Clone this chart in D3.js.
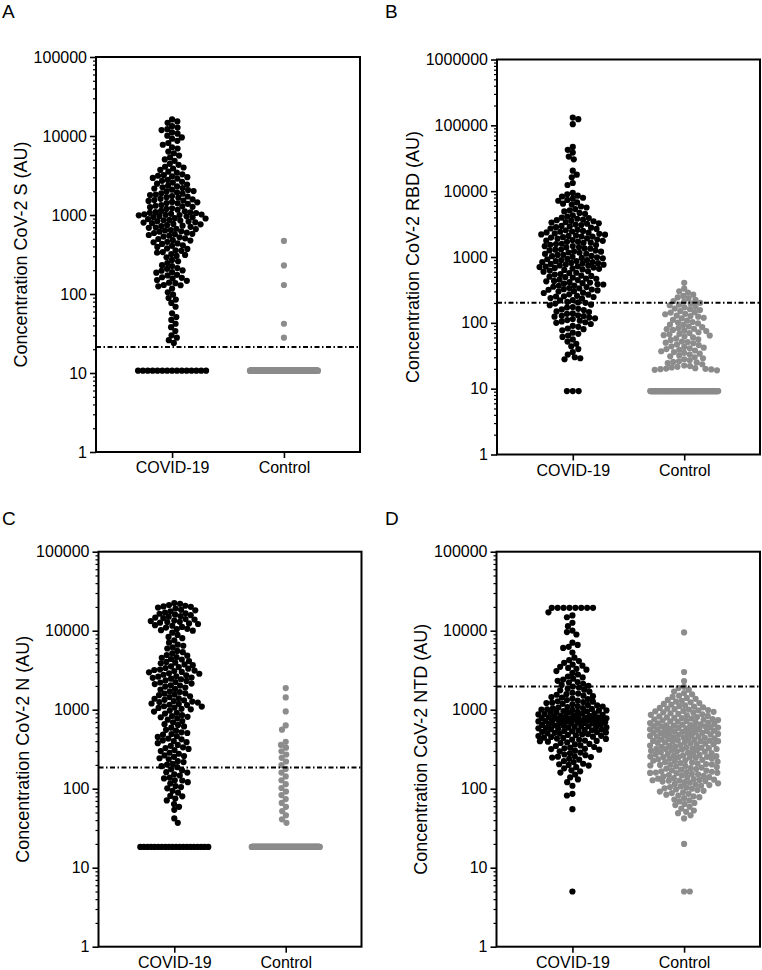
<!DOCTYPE html>
<html><head><meta charset="utf-8">
<script src="https://cdn.jsdelivr.net/npm/d3@7"></script>
<style>
body{margin:0;background:#fff;}
svg{display:block;font-family:"Liberation Sans",Arial,Helvetica,sans-serif;}
</style></head><body>
<svg id="chart" width="762" height="970"></svg>
<script>
// ---------------- DATA ----------------
const categories = ["COVID-19", "Control"];
const panelLetters = ["A", "B", "C", "D"];
const yTitles = ["Concentration CoV-2 S (AU)", "Concentration CoV-2 RBD (AU)",
                 "Concentration CoV-2 N (AU)", "Concentration CoV-2 NTD (AU)"];
const yMax = [1e5, 1e6, 1e5, 1e5];
const cutoffs = [21.3, 202, 186, 1970];

// Panel A: S
const sFloor = 10.7, sCovidFloorN = 15, sControlFloorN = 230;
const sCovid = [16200,15300,14700,13300,12800,12200,11900,11100,10700,10100,
9600,9250,8700,8150,7750,7200,6950,6350,6050,5650,5350,5050,
4850,4450,4320,4080,3990,3880,3720,3540,3430,3270,3190,
3140,3090,3010,2950,2890,2780,2710,2630,2570,
2490,2430,2350,2310,2240,2190,2160,2090,2070,2010,
1990,1940,1880,1860,1810,1790,1740,1715,1680,1655,1600,
1575,1545,1525,1505,1465,1445,1415,1405,1385,1335,1310,1290,1270,
1255,1215,1195,1165,1125,1115,1085,1080,1065,1060,1035,1020,1015,1005,1000,
992,972,963,941,934,912,903,887,866,858,851,835,826,808,801,
788,770,763,745,733,725,708,695,688,670,663,645,638,
621,615,598,592,578,572,558,547,533,522,506,
497,480,474,458,452,437,430,413,407,
394,378,372,357,352,339,333,321,
312,303,292,270,259,247,232,226,213,208,199,
197,190,186,175,172,163,160,158,150,147,139,137,130,129,125,
117,105,98,89,85,77,69,57,51,47,42,38,34,30,28,26,24];
const sControl = [470,230,130,42,28];

// Panel B: RBD
const rbdFloor = 9.2, rbdCovidFloorN = 3, rbdControlFloorN = 140;
const rbdCovid = [131000,124000,104000,47000,42500,38500,33500,30500,20500,17800,16200,13300,12400,
9400,8950,8550,8300,7950,7700,7350,7150,6750,6450,6250,5850,5650,5350,5100,
4920,4680,4520,4280,4120,3960,3900,3810,3690,3630,3540,3490,3390,3340,3250,3200,
3110,3060,2970,2930,2840,2790,2710,2670,2590,2550,
2490,2440,2420,2360,2340,2280,2250,2200,2180,2120,2090,2050,2040,2000,
1970,1920,1900,1840,1810,1770,1760,1710,1700,1650,1640,1590,
1570,1530,1520,1470,1460,1410,1400,1350,1340,1300,1290,1260,
1250,1215,1205,1170,1160,1120,1115,1080,1075,1040,1030,1005,
990,968,958,935,925,900,895,870,865,840,835,812,806,797,
786,770,765,745,740,722,716,702,692,683,668,662,648,637,
623,607,598,576,570,548,541,522,515,503,
494,487,471,467,452,446,433,427,414,409,401,
396,386,382,369,366,353,349,337,334,324,321,318,
311,303,299,287,284,271,268,257,253,251,
247,238,234,222,219,208,204,201,196,189,185,174,171,163,160,
156,149,146,139,137,130,128,127,124,120,117,114,110,108,105,102,100,
96,90,87,82,80,77,71,68,64,61,56,52,48,44,40,36,33,30,29,28];
const rbdControl = [405,332,301,287,268,256,243,236,224,214,209,201,
197,189,185,177,172,165,161,156,151,145,143,137,135,129,127,
124,119,117,111,108,103,101,98,94,93,88,86,83,81,80,
78,76,75,72,70,68,67,65,64,62,60,58,56,55,52,51,50,
49,47,46,44,43,42,41,40,39,38,37,36,35,34,33,32,
31,30,29,28,27,26,25.5,25,24.5,23.5,22.5,22,21.5,21,20.5,20.2,20,
19.8,19.6,19.3,19];

// Panel C: N
const nFloor = 18.3, nCovidFloorN = 20, nControlFloorN = 205;
const nCovid = [22400,21900,21100,20700,20300,20050,
19600,19100,18400,18100,17600,17000,16600,16400,15950,
15700,15250,15050,14650,14450,14050,13850,13450,13250,12950,12850,12650,
12350,12150,11750,11550,11150,10950,10550,10450,10150,10020,
9450,8850,8350,8050,7550,7050,6650,6450,6150,5950,5550,5350,5150,
4920,4830,4620,4530,4380,4320,4130,4020,
3940,3860,3740,3660,3540,3460,3370,3310,3220,3180,
3130,3090,3010,2970,2890,2850,2770,2730,2650,2620,2550,2530,
2470,2430,2350,2310,2240,2210,2140,2110,2040,2020,
1960,1910,1830,1790,1710,1670,1610,1595,
1555,1525,1475,1445,1395,1375,1335,1315,1285,1268,
1248,1232,1198,1184,1155,1143,1105,1094,1065,1053,1025,1012,
975,948,915,893,855,832,812,802,776,748,718,693,655,642,
615,593,556,542,517,507,492,483,461,452,431,422,408,401,
388,377,358,349,334,327,319,308,299,285,277,264,259,253,
243,236,223,217,206,202,193,187,176,171,162,160,
152,147,138,135,128,127,121,116,108,105,101,
94,89,81,80,75,71,64,59,54,42,37];
const nControl = [1880,1430,950,632,558,392,358,331,298,271,246,221,199,178,160,
143,128,114,102,92,83,74,66,59,52,46,41,37];

// Panel D: NTD
const ntdCap = 19500, ntdCovidCapN = 8;
const ntdCovid = [17100,15600,14800,12600,11400,10050,9600,8950,7050,6600,6250,6050,5300,
4550,4250,4120,3920,3730,3610,3490,3380,3290,3210,3080,2920,2790,2630,2560,
2470,2410,2320,2240,2210,2130,2060,2010,1960,1910,1840,1790,1760,1690,1640,1600,
1570,1545,1505,1485,1445,1425,1385,1365,1325,1305,1278,1262,
1252,1228,1213,1187,1172,1148,1134,1108,1097,1079,1067,1048,1037,1022,1011,1002,
993,979,972,958,951,938,931,918,912,898,892,879,872,858,851,838,833,819,812,804,800,797,
791,782,779,769,766,758,753,747,741,735,728,723,717,711,705,699,693,687,681,675,669,663,656,649,641,635,
628,621,617,609,605,597,593,585,581,573,569,561,557,549,545,537,533,525,521,513,509,503,
498,491,487,479,475,467,463,455,451,443,439,431,427,419,415,407,403,399,
394,385,379,369,363,353,347,337,331,324,320,317,
312,303,297,287,281,271,266,257,254,252,248,239,233,223,217,207,204,200,
196,187,181,171,166,160,151,139,131,121,109,86,82,55,5];
const ntdControl = [9500,3000,2300,1950,1880,1790,1700,1625,
1565,1505,1452,1408,1372,1331,1294,1268,
1243,1212,1184,1161,1133,1108,1092,1071,1052,1033,1016,1004,
992,981,966,953,941,927,914,902,888,874,862,849,835,822,808,798,
789,781,772,763,755,746,738,729,721,712,704,696,688,679,671,662,654,646,639,633,
628,622,617,611,605,599,594,588,582,576,571,565,559,553,548,542,536,531,525,519,514,509,505,502,
498,493,487,482,477,471,466,461,456,451,445,440,435,430,425,420,415,411,406,402,400,399,
396,391,386,381,376,371,366,361,357,352,348,343,339,334,330,326,322,319,318,317,
314,310,306,302,298,294,290,286,282,278,275,271,268,264,261,258,255,253,252,251,
249,246,242,239,236,232,229,226,223,220,217,214,211,208,205,203,201,200,
197,194,191,188,185,182,179,177,174,171,169,166,164,162,160,159,158.5,
157,154,152,149,147,145,143,140,138,136,134,132,130,129,128,127,126.5,
125,123,121,119,117,115,113,111,109,107,105,103,101,100,
98,96,94,92,90,88,86,84,82,80,78,76,73,71,69,66,64,62,59,56,53,51,49,46,42,20,5,5];

// ---------------- LAYOUT ----------------
const panels = [
  {covid: sCovid, covidRows: [[sFloor, sCovidFloorN]], ctrl: sControl, ctrlRows: [[sFloor, sControlFloorN]],
   box: [96, 57, 360, 452], letterPos: [2, 18]},
  {covid: rbdCovid, covidRows: [[rbdFloor, rbdCovidFloorN]], ctrl: rbdControl, ctrlRows: [[rbdFloor, rbdControlFloorN]],
   box: [497, 59.5, 760, 454.5], letterPos: [385, 18]},
  {covid: nCovid, covidRows: [[nFloor, nCovidFloorN]], ctrl: nControl, ctrlRows: [[nFloor, nControlFloorN]],
   box: [98.5, 551.7, 361.5, 946.7], letterPos: [2, 525]},
  {covid: ntdCovid, covidRows: [[ntdCap, ntdCovidCapN]], ctrl: ntdControl, ctrlRows: [],
   box: [496.5, 551.7, 760, 946.7], letterPos: [385, 525]}
];
const colors = ["#000000", "#8c8c8c"];
const R = 3.1, DCOLL = 2 * R * 0.9, LIMIT = 34;

function swarm(vals, rows, y) {
  const placed = [];
  rows.forEach(([v, n]) => {
    const sp = n > 1 ? Math.min(2 * R * 0.95, 2 * LIMIT / (n - 1)) : 0;
    for (let i = 0; i < n; i++) placed.push({v, y: y(v), dx: (i - (n - 1) / 2) * sp});
  });
  const pts = vals.map(v => ({v, y: y(v)})).sort((a, b) => a.y - b.y);
  pts.forEach((p, idx) => {
    const near = placed.filter(q => Math.abs(q.y - p.y) < DCOLL);
    const s0 = idx % 2 ? 1 : -1;
    let chosen = null, bestX = 0, bestD = -1;
    outer: for (let k = 0; k <= LIMIT * 4; k++) {
      const m = k * 0.25;
      const sides = k === 0 ? [1] : [s0, -s0];
      for (const s of sides) {
        const xx = s * m;
        let md = Infinity;
        for (const q of near) {
          const dd = Math.hypot(q.dx - xx, q.y - p.y);
          if (dd < md) md = dd;
        }
        if (md >= DCOLL) { chosen = xx; break outer; }
        if (md > bestD) { bestD = md; bestX = xx; }
      }
    }
    p.dx = chosen !== null ? chosen : bestX;
    placed.push(p);
  });
  return placed;
}

const svg = d3.select("#chart");
const FONT = '"Liberation Sans",Arial,Helvetica,sans-serif';

panels.forEach((P, pi) => {
  const [x0, y0, x1, y1] = P.box;
  const g = svg.append("g");
  const y = d3.scaleLog().domain([1, yMax[pi]]).range([y1, y0]);
  const x = d3.scalePoint().domain(categories).range([x0, x1]).padding(0.68);
  const nDec = Math.round(Math.log10(yMax[pi]));
  const majors = d3.range(0, nDec + 1).map(e => Math.pow(10, e));
  const minors = [];
  for (let e = 0; e < nDec; e++) for (let m = 2; m <= 9; m++) minors.push(m * Math.pow(10, e));

  // dots
  [[P.covid, P.covidRows], [P.ctrl, P.ctrlRows]].forEach(([vals, rows], ci) => {
    const pts = swarm(vals, rows, y);
    g.append("g").selectAll("circle").data(pts).join("circle")
      .attr("cx", d => x(categories[ci]) + d.dx)
      .attr("cy", d => d.y)
      .attr("r", R)
      .attr("fill", colors[ci]);
  });

  // cutoff line
  g.append("line")
    .attr("x1", x0).attr("x2", x1)
    .attr("y1", y(cutoffs[pi])).attr("y2", y(cutoffs[pi]))
    .attr("stroke", "#000").attr("stroke-width", 2)
    .attr("stroke-dasharray", "5,2.5,1.5,2.5");

  // minor ticks
  const gMin = g.append("g").attr("transform", `translate(${x0},0)`)
    .call(d3.axisLeft(y).tickValues(minors).tickSize(3).tickFormat(""));
  gMin.select(".domain").remove();
  gMin.selectAll("line").attr("stroke", "#000").attr("stroke-width", 1.2);

  // major ticks + labels
  const gMaj = g.append("g").attr("transform", `translate(${x0},0)`)
    .call(d3.axisLeft(y).tickValues(majors).tickSize(6).tickPadding(3).tickFormat(d3.format("d")));
  gMaj.select(".domain").remove();
  gMaj.selectAll("line").attr("stroke", "#000").attr("stroke-width", 1.6);
  gMaj.selectAll("text").attr("fill", "#000").style("font-size", "16px").style("font-family", FONT);

  // x axis
  const gX = g.append("g").attr("transform", `translate(0,${y1})`)
    .call(d3.axisBottom(x).tickSize(6).tickPadding(4));
  gX.select(".domain").remove();
  gX.selectAll("line").attr("stroke", "#000").attr("stroke-width", 1.6);
  gX.selectAll("text").attr("fill", "#000").style("font-size", "16px").style("font-family", FONT);

  // frame
  g.append("rect").attr("x", x0).attr("y", y0).attr("width", x1 - x0).attr("height", y1 - y0)
    .attr("fill", "none").attr("stroke", "#000").attr("stroke-width", 2);

  // y title
  const bb = gMaj.node().getBBox();
  const tx = x0 + bb.x - 7;
  g.append("text")
    .attr("transform", `translate(${tx},${(y0 + y1) / 2}) rotate(-90)`)
    .attr("text-anchor", "middle")
    .style("font-size", "18px")
    .text(yTitles[pi]);

  // panel letter
  g.append("text").attr("x", P.letterPos[0]).attr("y", P.letterPos[1])
    .style("font-size", "19px").text(panelLetters[pi]);
});
</script>
</body></html>
